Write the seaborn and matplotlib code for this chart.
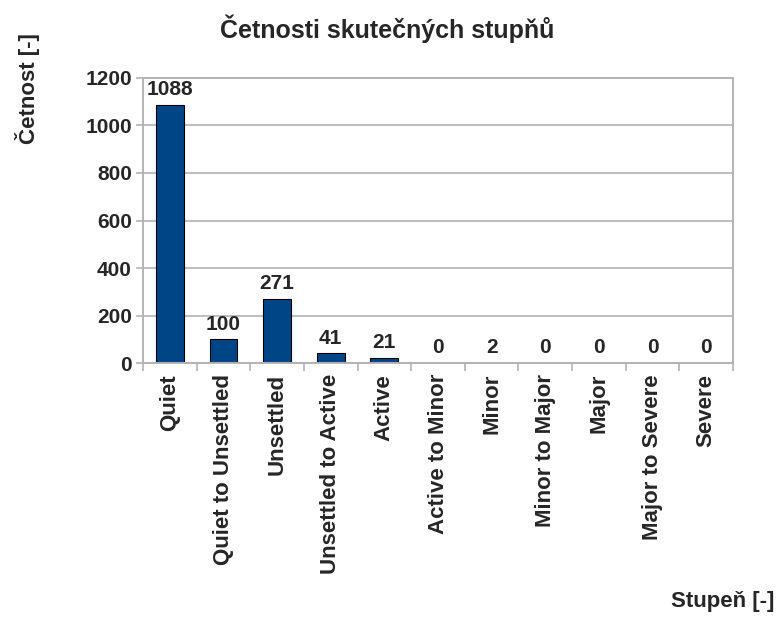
import matplotlib
matplotlib.use("Agg")
import matplotlib.pyplot as plt
import seaborn as sns
import pandas as pd

categories = ["Quiet", "Quiet to Unsettled", "Unsettled", "Unsettled to Active",
              "Active", "Active to Minor", "Minor", "Minor to Major", "Major",
              "Major to Severe", "Severe"]
counts = [1088, 100, 271, 41, 21, 0, 2, 0, 0, 0, 0]
yticks = [0, 200, 400, 600, 800, 1000, 1200]

sns.set_theme(style="white")
plt.rcParams['font.family'] = ['Liberation Sans', 'DejaVu Sans']

df = pd.DataFrame({"cat": categories, "count": counts})

fig = plt.figure(figsize=(7.78, 6.18), dpi=100)
ax = fig.add_axes([0.1838, 0.4126, 0.7584, 0.4612])

sns.barplot(data=df, x="cat", y="count", ax=ax, color="#004586",
            width=0.52, edgecolor="black", linewidth=0.8, saturation=1)

grid_c = "#b3b3b3"
ax.set_ylim(0, 1200)
ax.set_xlim(-0.5, len(categories) - 0.5)
ax.set_yticks(yticks)
ax.set_yticklabels([str(v) for v in yticks], fontsize=15, fontweight="bold")
ax.yaxis.grid(True, color=grid_c, linewidth=1.2)
ax.set_axisbelow(True)
for s in ax.spines.values():
    s.set_color(grid_c)
    s.set_linewidth(1.4)

ax.set_xticks(range(len(categories)))
ax.set_xticklabels(categories, rotation=90, fontsize=16, fontweight="bold")
ax.tick_params(axis="x", which="major", bottom=False, length=0, pad=8)
ax.tick_params(axis="y", left=True, length=5, width=1.2, color=grid_c, pad=3,
               direction="out")
ax.set_xticks([i - 0.5 for i in range(len(categories) + 1)], minor=True)
ax.tick_params(axis="x", which="minor", bottom=True, length=6, color=grid_c,
               width=1.2, direction="out")

for i, v in enumerate(counts):
    ax.annotate(str(v), (i, v), xytext=(0, 4), textcoords="offset points",
                ha="center", va="bottom", fontsize=15, fontweight="bold")

ax.set_xlabel("")
ax.set_ylabel("")
fig.text(0.498, 0.938, "Četnosti skutečných stupňů", ha="center", va="baseline",
         fontsize=18, fontweight="bold")
fig.text(0.035, 0.857, "Četnost [-]", rotation=90, ha="center", va="center",
         fontsize=16, fontweight="bold")
fig.text(0.929, 0.026, "Stupeň [-]", ha="center", va="center",
         fontsize=16, fontweight="bold")

fig.savefig("out.png", dpi=100)
